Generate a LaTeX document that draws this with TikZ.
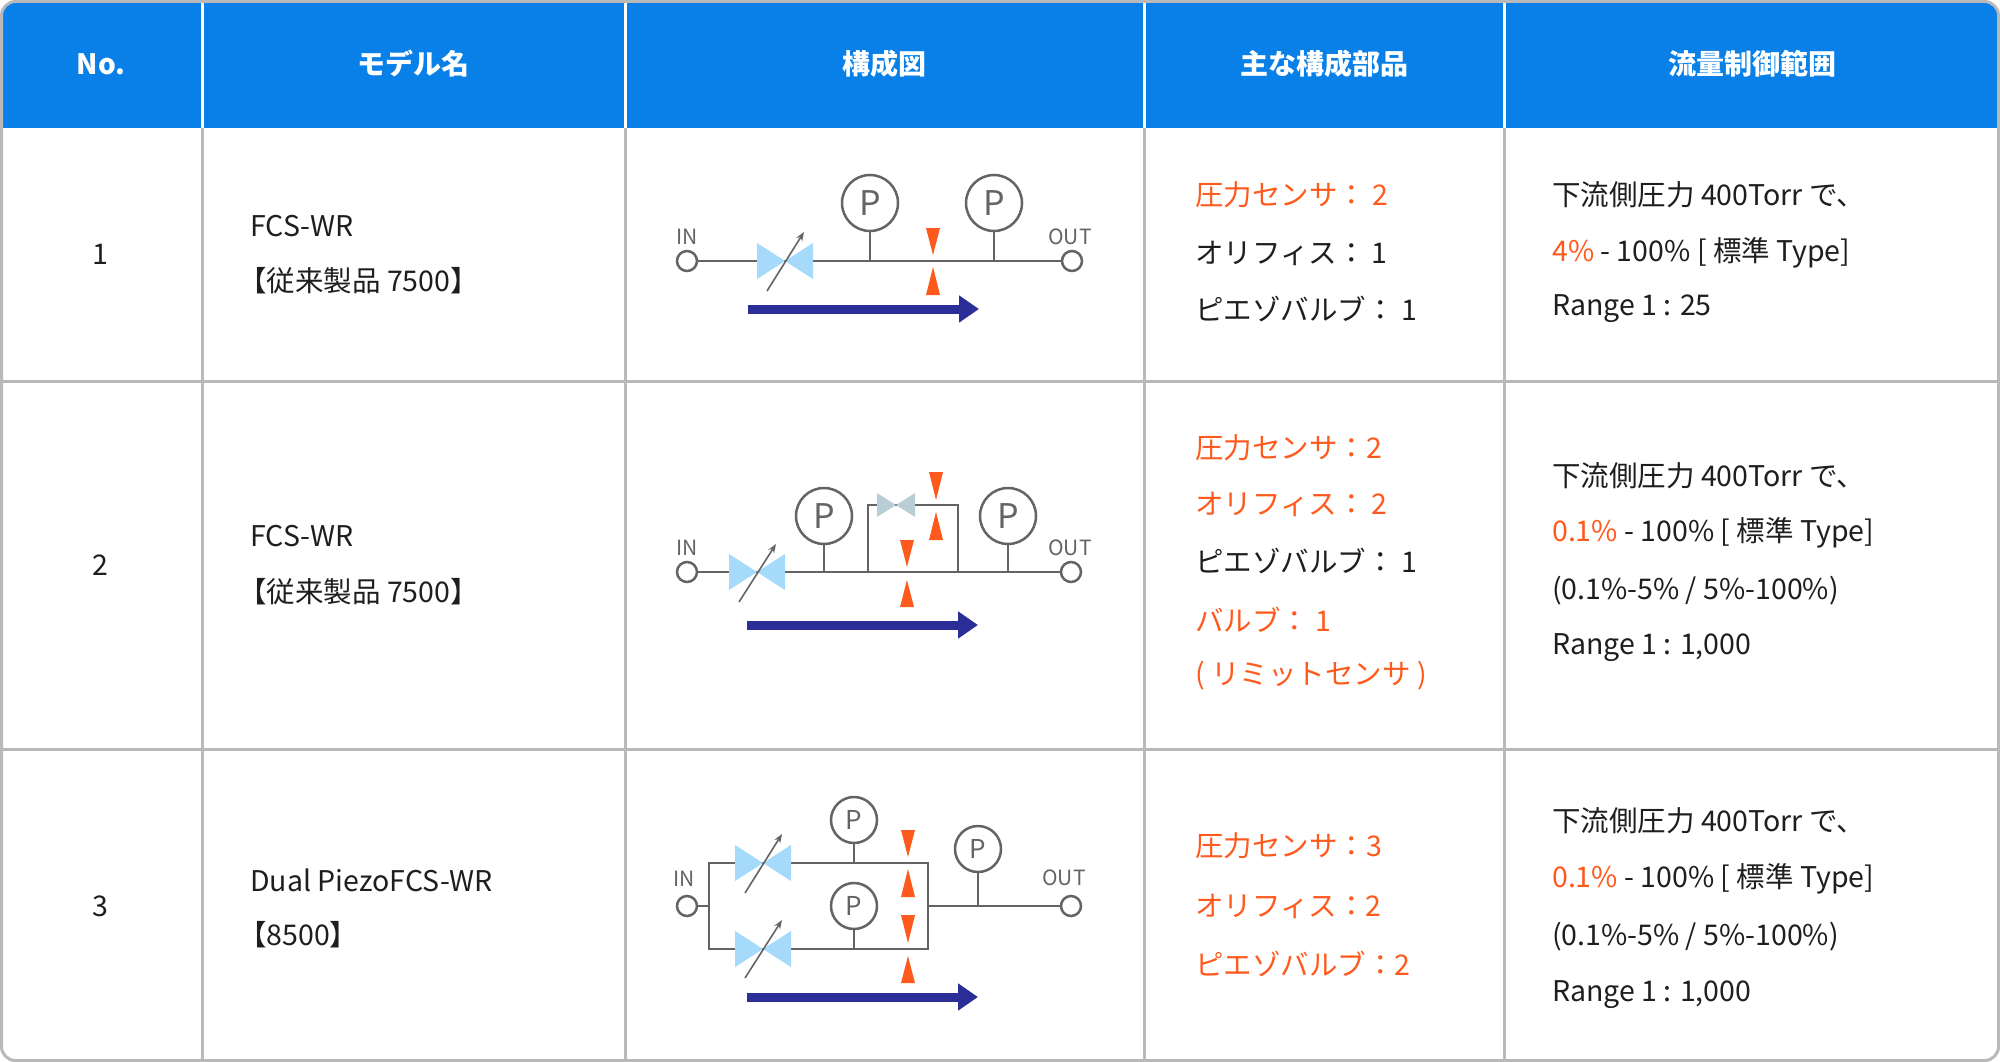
\documentclass[tikz,border=0pt]{standalone}
\usepackage{fontspec}
\setmainfont{Noto Sans CJK JP}
\usetikzlibrary{arrows.meta}
\definecolor{hdr}{RGB}{8,128,232}
\definecolor{grid}{RGB}{185,185,185}
\definecolor{orng}{RGB}{255,90,30}
\definecolor{txt}{RGB}{30,30,30}
\definecolor{pipe}{RGB}{100,100,100}
\definecolor{vblue}{RGB}{165,218,250}
\definecolor{vgray}{RGB}{185,205,215}
\definecolor{flow}{RGB}{42,46,150}
\newcommand\valveX[5]{\fill[#5] ({#1-#3},{#2-#4}) -- ({#1-#3},{#2+#4}) -- (#1,#2) -- cycle; \fill[#5] ({#1+#3},{#2-#4}) -- ({#1+#3},{#2+#4}) -- (#1,#2) -- cycle;}
\newcommand\tdown[3]{\fill[orng] ({#1-7},#2) -- ({#1+7},#2) -- (#1,#3) -- cycle;}
\newcommand\tup[3]{\fill[orng] ({#1-7},#3) -- ({#1+7},#3) -- (#1,#2) -- cycle;}
\begin{document}
\begin{tikzpicture}[x=1pt,y=-1pt,
  cell/.style={anchor=west,text=txt,font=\fontsize{28.5}{34}\selectfont,inner sep=0pt},
  ccell/.style={cell,anchor=center},
  hd/.style={text=white,font=\fontsize{28}{34}\selectfont\bfseries,inner sep=0pt},
  pl/.style={line width=2.5pt,draw=pipe},
  port/.style={circle,draw=pipe,line width=2.5pt,minimum size=20pt,inner sep=0pt,fill=white},
  pg/.style={circle,draw=pipe,line width=2.5pt,minimum size=56pt,inner sep=0pt,fill=white,text=pipe,font=\fontsize{34}{34}\selectfont},
  pgs/.style={pg,minimum size=46pt,font=\fontsize{26}{26}\selectfont},
  lbl/.style={text=pipe,font=\fontsize{21}{21}\selectfont,inner sep=0pt},
  fl/.style={line width=9pt,draw=flow,-{Triangle[length=20pt,width=26pt]}},
  arr/.style={draw=pipe,line width=1.6pt,-{Stealth[length=9pt,open]}}]
\useasboundingbox (0,0) rectangle (2000,1062);
\fill[white,rounded corners=14pt] (1.5,1.5) rectangle (1998.5,1060.5);
\fill[hdr,rounded corners=14pt] (1.5,1.5) rectangle (1998.5,60);
\fill[hdr] (1.5,40) rectangle (1998.5,128);
\foreach \x in {202,625,1144,1504} \draw[grid,line width=3pt] (\x,128) -- (\x,1060);
\draw[white,line width=3pt] (202,0) -- (202,128) (625,0)--(625,128) (1144,0)--(1144,128) (1504,0)--(1504,128);
\draw[grid,line width=3pt] (1.5,381) -- (1998.5,381) (1.5,749) -- (1998.5,749);
\draw[grid,line width=3pt,rounded corners=14pt] (1.5,1.5) rectangle (1998.5,1060.5);
% header
\node[hd] (h1) at (101,64) {No.};
\node[hd] (h2) at (413,64) {モデル名};
\node[hd] (h3) at (884,64) {構成図};
\node[hd] (h4) at (1324,64) {主な構成部品};
\node[hd] (h5) at (1752,64) {流量制御範囲};
% row 1
\node[ccell] (n1) at (100,254) {1};
\node[cell] (m1a) at (250,226) {FCS-WR};
\node[cell] (m1b) at (238,281) {【従来製品 7500】};
\node[cell,text=orng] (c1a) at (1195,195) {圧力センサ： 2};
\node[cell] (c1b) at (1195,253) {オリフィス： 1};
\node[cell] (c1c) at (1195,309) {ピエゾバルブ： 1};
\node[cell] (r1a) at (1552,195) {下流側圧力 400Torr で、};
\node[cell] (r1b) at (1552,253) {\textcolor{orng}{4\%} - 100\% [ 標準 Type]};
\node[cell] (r1c) at (1552,309) {Range 1 : 25};
% row 2
\node[ccell] (n2) at (100,565) {2};
\node[cell] (m2a) at (250,536) {FCS-WR};
\node[cell] (m2b) at (238,592) {【従来製品 7500】};
\node[cell,text=orng] (c2a) at (1195,448) {圧力センサ：2};
\node[cell,text=orng] (c2b) at (1195,504) {オリフィス： 2};
\node[cell] (c2c) at (1195,561) {ピエゾバルブ： 1};
\node[cell,text=orng] (c2d) at (1195,620) {バルブ： 1};
\node[cell,text=orng] (c2e) at (1195,676) {( リミットセンサ )};
\node[cell] (r2a) at (1552,476) {下流側圧力 400Torr で、};
\node[cell] (r2b) at (1552,533) {\textcolor{orng}{0.1\%} - 100\% [ 標準 Type]};
\node[cell] (r2c) at (1552,591) {(0.1\%-5\% / 5\%-100\%)};
\node[cell] (r2d) at (1552,648) {Range 1 : 1,000};
% row 3
\node[ccell] (n3) at (100,906) {3};
\node[cell] (m3a) at (250,880) {Dual PiezoFCS-WR};
\node[cell] (m3b) at (238,935) {【8500】};
\node[cell,text=orng] (c3a) at (1195,846) {圧力センサ：3};
\node[cell,text=orng] (c3b) at (1195,906) {オリフィス：2};
\node[cell,text=orng] (c3c) at (1195,964) {ピエゾバルブ：2};
\node[cell] (r3a) at (1552,821) {下流側圧力 400Torr で、};
\node[cell] (r3b) at (1552,879) {\textcolor{orng}{0.1\%} - 100\% [ 標準 Type]};
\node[cell] (r3c) at (1552,937) {(0.1\%-5\% / 5\%-100\%)};
\node[cell] (r3d) at (1552,995) {Range 1 : 1,000};
% ===== diagram 1
\coordinate (a1) at (870,261); \coordinate (b1) at (994,261);
\draw[pl] (687,261) -- (1072,261);
\node[port] (in1) at (687,261) {}; \node[port] (out1) at (1072,261) {};
\node[lbl] at (687,237) {IN}; \node[lbl] at (1070,237) {OUT};
\valveX{785}{261}{28}{18}{vblue}
\draw[arr] (767,291) -- (804,232);
\node[pg] (p11) at (870,203) {P}; \node[pg] (p12) at (994,203) {P};
\draw[pl] (p11) -- (a1); \draw[pl] (p12) -- (b1);
\tdown{933}{228}{255} \tup{933}{267}{295}
\coordinate (fs1) at (748,309); \coordinate (fe1) at (979,309);
\draw[fl] (fs1) -- (fe1);
% ===== diagram 2
\draw[pl] (687,572) -- (1071,572);
\draw[pipe,line width=2pt] (868,572) -- (868,505) -- (958,505) -- (958,572);
\node[port] (in2) at (687,572) {}; \node[port] (out2) at (1071,572) {};
\node[lbl] at (687,548) {IN}; \node[lbl] at (1070,548) {OUT};
\valveX{757}{572}{28}{18}{vblue}
\draw[arr] (739,602) -- (776,544);
\valveX{896}{505}{19}{12}{vgray}
\node[pg] (p21) at (824,516) {P}; \node[pg] (p22) at (1008,516) {P};
\draw[pl] (p21) -- (824,572); \draw[pl] (p22) -- (1008,572);
\tdown{936}{472}{500} \tup{936}{512}{540}
\tdown{907}{540}{567} \tup{907}{580}{607}
\coordinate (fs2) at (747,625); \coordinate (fe2) at (978,625);
\draw[fl] (fs2) -- (fe2);
% ===== diagram 3
\draw[pl] (687,906) -- (709,906);
\draw[pl] (709,863) rectangle (928,949);
\draw[pl] (928,906) -- (1071,906);
\node[port] (in3) at (687,906) {}; \node[port] (out3) at (1071,906) {};
\node[lbl] at (684,879) {IN}; \node[lbl] at (1064,878) {OUT};
\valveX{763}{863}{28}{18}{vblue}
\valveX{763}{949}{28}{18}{vblue}
\draw[arr] (745,893) -- (782,834);
\draw[arr] (745,978) -- (782,920);
\node[pgs] (p31) at (854,820) {P}; \node[pgs] (p32) at (854,906) {P}; \node[pgs] (p33) at (978,849) {P};
\draw[pl] (p31) -- (854,863); \draw[pl] (p32) -- (854,949); \draw[pl] (p33) -- (978,906);
\tdown{908}{830}{857} \tup{908}{869}{897}
\tdown{908}{915}{943} \tup{908}{956}{983}
\coordinate (fs3) at (747,997); \coordinate (fe3) at (978,997);
\draw[fl] (fs3) -- (fe3);
\end{tikzpicture}
\end{document}
